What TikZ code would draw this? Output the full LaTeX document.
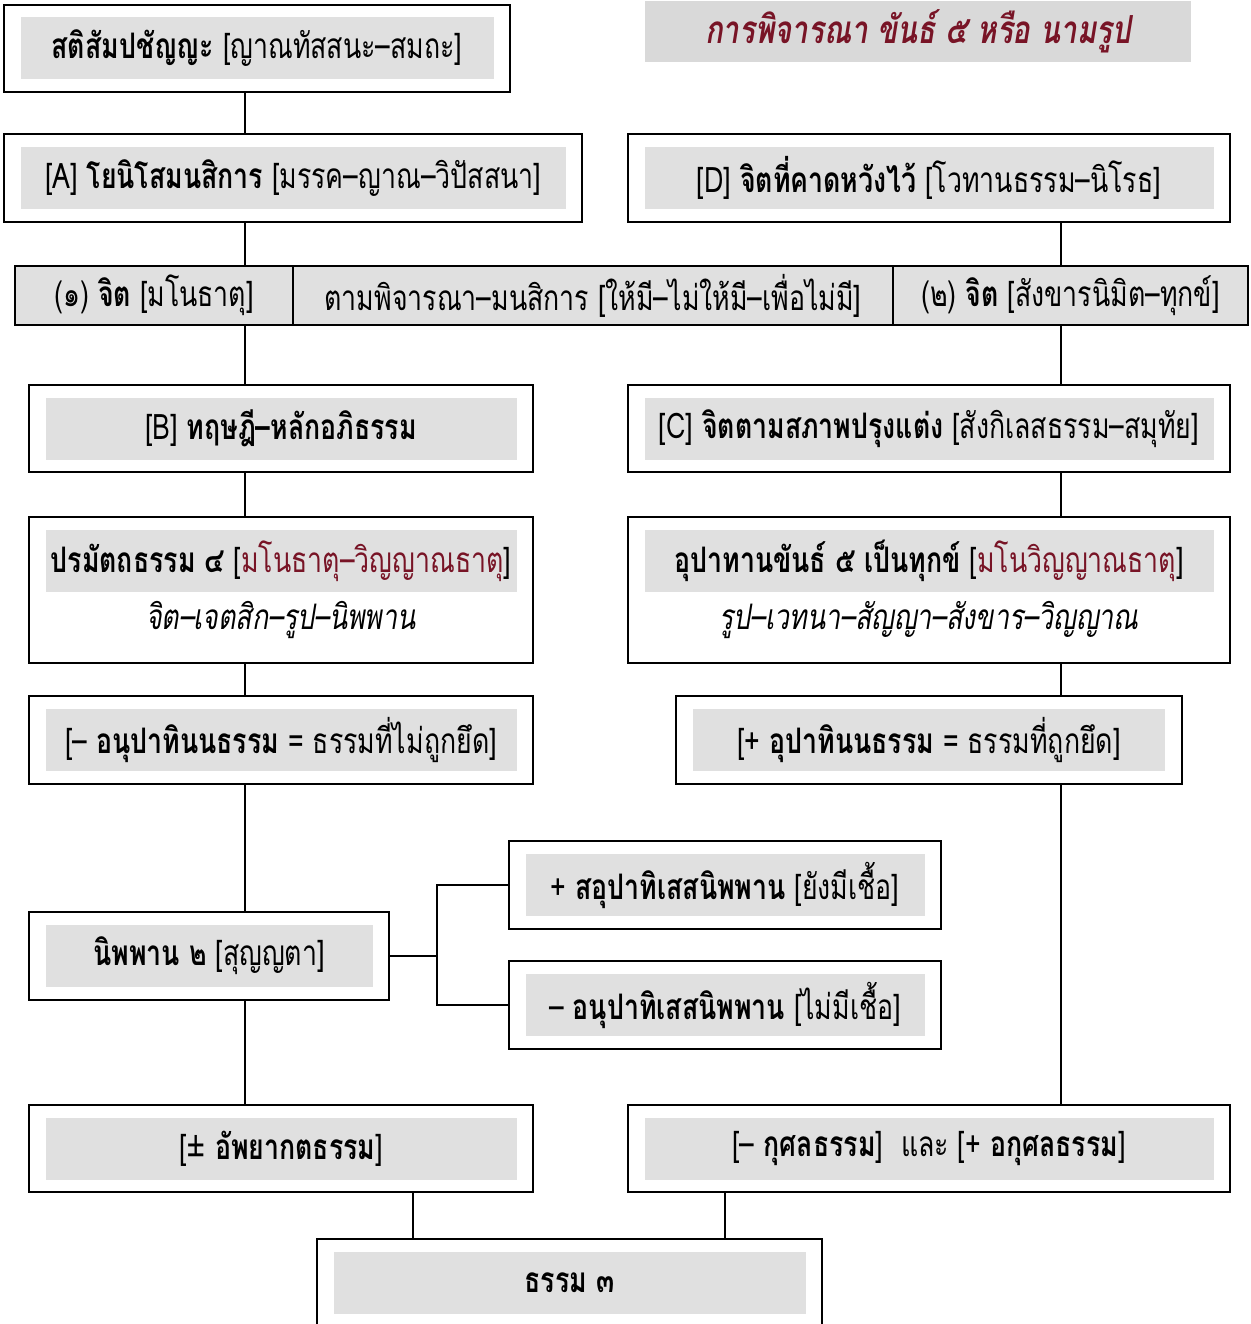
\documentclass[tikz,border=0pt]{standalone}
\usepackage{xcolor}
\usepackage{fontspec}
\setmainfont{Loma}[Script=Thai,FakeStretch=0.76]
\usepackage{tikz}
\usetikzlibrary{positioning,fit}

\definecolor{boxgray}{RGB}{224,224,224}
\definecolor{titlegray}{RGB}{217,217,217}
\definecolor{deepred}{RGB}{120,20,38}

\begin{document}
\begin{tikzpicture}[on grid,font=\fontsize{20}{24}\selectfont,
        inbox/.style={fill=boxgray,minimum height=1.24cm,inner sep=0pt,align=center},
        frame/.style={draw,line width=1.1pt,inner xsep=0.33cm,inner ysep=0.25cm},
        cell/.style={draw,line width=1.1pt,fill=boxgray,minimum height=1.18cm,inner sep=0pt},
        subline/.style={minimum height=1.2cm,inner sep=0pt,font=\fontsize{20}{24}\selectfont\itshape},
        link/.style={line width=0.8pt}]
        \useasboundingbox (0,0) rectangle (25,-26.48);
        \coordinate (colL) at (4.9,0);
        \coordinate (colR) at (21.22,0);
        \coordinate (fork) at (8.74,0);
        \coordinate (abx) at (8.26,0);
        \coordinate (kux) at (14.5,0);

        % title
        \node[fill=titlegray,minimum width=10.92cm,minimum height=1.22cm,inner sep=0pt,
              text=deepred,font=\fontsize{22}{26}\selectfont\bfseries\itshape] (Title) at (18.36,-0.63)
              {การพิจารณา ขันธ์ ๕ หรือ นามรูป};

        % left column
        \node[inbox,minimum width=9.46cm] (Sati) at (5.14,-0.97) {\textbf{สติสัมปชัญญะ} [ญาณทัสสนะ–สมถะ]};
        \node[inbox,minimum width=10.9cm] (A) at (5.86,-3.56) {[A] \textbf{โยนิโสมนสิการ} [มรรค–ญาณ–วิปัสสนา]};
        \node[inbox,minimum width=11.38cm] (D) [right=12.72cm of A] {[D] \textbf{จิตที่คาดหวังไว้} [โวทานธรรม–นิโรธ]};

        % middle strip
        \node[cell,minimum width=5.56cm] (M1) at (3.08,-5.91) {(๑) \textbf{จิต} [มโนธาตุ]};
        \node[cell,minimum width=12cm] (M2) [right=8.78cm of M1] {ตามพิจารณา–มนสิการ [ให้มี–ไม่ให้มี–เพื่อไม่มี]};
        \node[cell,minimum width=7.1cm] (M3) [right=9.55cm of M2] {(๒) \textbf{จิต} [สังขารนิมิต–ทุกข์]};

        \node[inbox,minimum width=9.42cm] (B) at (5.62,-8.57) {[B] \textbf{ทฤษฎี–หลักอภิธรรม}};
        \node[inbox,minimum width=11.38cm] (C) [right=12.96cm of B] {[C] \textbf{จิตตามสภาพปรุงแต่ง} [สังกิเลสธรรม–สมุทัย]};

        \node[inbox,minimum width=9.42cm] (P) [below=2.65cm of B] {\textbf{ปรมัตถธรรม ๔} [\textcolor{deepred}{มโนธาตุ–วิญญาณธาตุ}]};
        \node[subline,minimum width=9.42cm] (Pi) [below=1.18cm of P] {จิต–เจตสิก–รูป–นิพพาน};
        \node[inbox,minimum width=11.38cm] (U) [right=12.96cm of P] {\textbf{อุปาทานขันธ์ ๕ เป็นทุกข์} [\textcolor{deepred}{มโนวิญญาณธาตุ}]};
        \node[subline,minimum width=11.38cm] (Ui) [below=1.18cm of U] {รูป–เวทนา–สัญญา–สังขาร–วิญญาณ};

        \node[inbox,minimum width=9.42cm] (Anu) [below=3.58cm of P] {[– \textbf{อนุปาทินนธรรม} = ธรรมที่ไม่ถูกยึด]};
        \node[inbox,minimum width=9.44cm] (Upa) [right=12.96cm of Anu] {[+ \textbf{อุปาทินนธรรม} = ธรรมที่ถูกยึด]};

        \node[inbox,minimum width=6.54cm] (Nib) at (4.18,-19.12) {\textbf{นิพพาน ๒} [สุญญตา]};
        \node[inbox,minimum width=7.98cm] (Sa) at (14.5,-17.7) {+ \textbf{สอุปาทิเสสนิพพาน} [ยังมีเชื้อ]};
        \node[inbox,minimum width=7.98cm] (An) [below=2.4cm of Sa] {– \textbf{อนุปาทิเสสนิพพาน} [ไม่มีเชื้อ]};

        \node[inbox,minimum width=9.42cm] (Ab) [below=8.17cm of Anu] {[± \textbf{อัพยากตธรรม}]};
        \node[inbox,minimum width=11.38cm] (Ku) [right=12.96cm of Ab] {[– \textbf{กุศลธรรม}]\ \ และ [+ \textbf{อกุศลธรรม}]};
        \node[inbox,minimum width=9.44cm] (Th) at (11.39,-25.66) {\textbf{ธรรม ๓}};

        % outer frames
        \foreach \n in {Sati,A,D,B,C,Anu,Upa,Nib,Sa,An,Ab,Ku,Th}
            \node[frame,fit=(\n)] (\n F) {};
        \node[frame,fit=(P)(Pi)] (PF) {};
        \node[frame,fit=(U)(Ui)] (UF) {};

        % connectors
        \foreach \a/\b in {SatiF/AF,AF/M1,M1/BF,BF/PF,PF/AnuF,AnuF/NibF,NibF/AbF}
            \draw[link] (\a.south -| colL) -- (\b.north -| colL);
        \foreach \a/\b in {DF/M3,M3/CF,CF/UF,UF/UpaF,UpaF/KuF}
            \draw[link] (\a.south -| colR) -- (\b.north -| colR);
        \draw[link] (NibF.east) -- (NibF.east -| fork);
        \draw[link] (SaF.west) -| (AnF.west -| fork) -- (AnF.west);
        \draw[link] (AbF.south -| abx) -- (ThF.north -| abx);
        \draw[link] (KuF.south -| kux) -- (ThF.north -| kux);
    \end{tikzpicture}
\end{document}
